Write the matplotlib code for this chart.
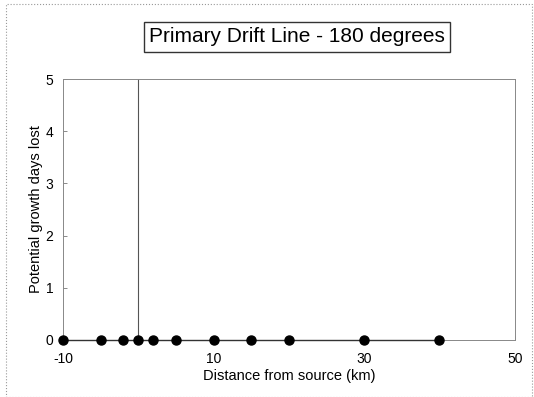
import matplotlib
matplotlib.use("Agg")
import matplotlib.pyplot as plt
from matplotlib.patches import Rectangle

plt.rcParams['font.family'] = ['Liberation Sans', 'DejaVu Sans']
plt.rcParams['axes.unicode_minus'] = False

distance = [-10, -5, -2, 0, 2, 5, 10, 15, 20, 30, 40]
days_lost = [0, 0, 0, 0, 0, 0, 0, 0, 0, 0, 0]
source_x = 0

fig = plt.figure(figsize=(5.34, 3.97), dpi=100)
ax = fig.add_axes([0.118, 0.144, 0.846, 0.657])

ax.plot(distance, days_lost, color='#333333', lw=1.0, marker='o',
        markersize=6.5, markerfacecolor='black', markeredgecolor='black',
        clip_on=False, zorder=3)
ax.axvline(source_x, color='#555555', lw=0.8)

ax.set_xlim(-10, 50)
ax.set_ylim(0, 5)
ax.set_xticks([-10, 10, 30, 50])
ax.set_yticks([0, 1, 2, 3, 4, 5])
ax.tick_params(direction='in', length=3, width=0.6, colors='#777777',
               labelcolor='black', labelsize=10)
ax.tick_params(axis='x', pad=9)
ax.tick_params(axis='y', pad=7)
for s in ax.spines.values():
    s.set_color('#888888')
    s.set_linewidth(0.7)

ax.set_xlabel("Distance from source (km)", fontsize=10.5, labelpad=2)
ax.set_ylabel("Potential growth days lost", fontsize=10.5, labelpad=2)

fig.text(0.556, 0.907, "Primary Drift Line - 180 degrees", fontsize=15,
         ha='center', va='center',
         bbox=dict(boxstyle='square,pad=0.25', facecolor='white',
                   edgecolor='#333333', linewidth=1.0))

fig.patches.append(Rectangle((0.011, 0.0), 0.985, 0.99,
                             transform=fig.transFigure, fill=False,
                             edgecolor='#999999', linestyle=':', lw=0.8))

fig.savefig("out.png", dpi=100)
